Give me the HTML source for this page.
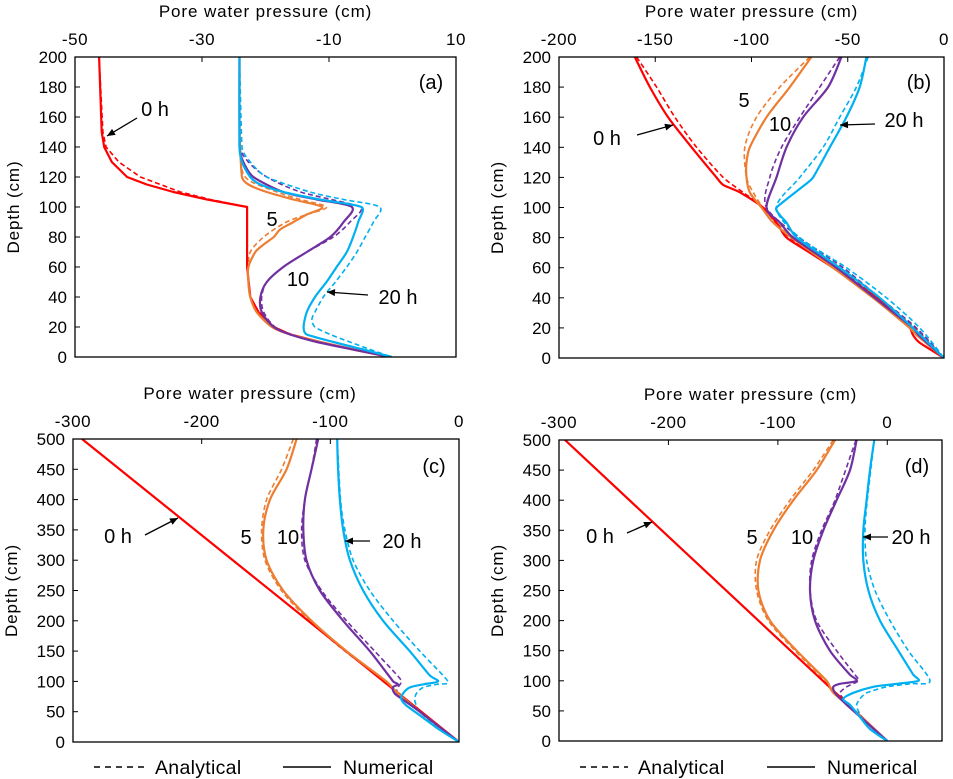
<!DOCTYPE html>
<html><head><meta charset="utf-8">
<style>
html,body{margin:0;padding:0;background:#fff;}
svg{display:block;font-family:"Liberation Sans",Arial,sans-serif;}
</style></head>
<body>
<svg id="chart" width="953" height="779" viewBox="0 0 953 779" xmlns="http://www.w3.org/2000/svg"></svg>
<script>
// ---------- Panel (a) data: depth (cm) / pore pressure (cm) ----------
const aRedNumD = [200,150,140,130,120,115,110,105,100,60,40,30,20,15,10,5,0];
const aRedNumP = [-46.2,-45.8,-45.4,-44.2,-41.8,-38.7,-34.5,-29.2,-22.9,-22.9,-22.4,-21.1,-18.7,-16.1,-11.4,-6.2,-0.4];
const aRedAnaD = [200,150,140,130,120,110,105,100,60,40,30,20,15,10,5,0];
const aRedAnaP = [-46.2,-45.6,-45.1,-43.1,-39.7,-33.4,-28.7,-22.9,-22.9,-22.4,-21.1,-18.7,-16.1,-11.4,-6.2,-0.4];
const aOrgNumD = [200,160,140,120,115,110,105,100,95,90,85,80,75,70,60,50,40,30,20,15,10,5,0];
const aOrgNumP = [-24.1,-24.1,-24.0,-23.7,-22.7,-19.8,-15.6,-11.1,-13.5,-15.6,-17.7,-18.7,-20.3,-21.6,-22.7,-22.7,-22.4,-21.4,-19.0,-16.1,-11.4,-6.2,-0.4];
const aOrgAnaD = [200,160,140,120,110,105,100,95,90,80,70,60,50,40,30,20,15,10,5,0];
const aOrgAnaP = [-24.1,-24.1,-24.0,-23.2,-18.2,-14.5,-10.4,-13.5,-16.7,-20.3,-22.4,-22.7,-22.7,-22.4,-21.4,-19.0,-16.1,-11.4,-6.2,-0.4];
const aPurNumD = [200,140,130,120,110,105,100,90,80,70,60,50,40,30,20,15,10,5,0];
const aPurNumP = [-24.1,-24.1,-23.5,-21.9,-17.2,-11.9,-6.4,-7.7,-9.8,-13.5,-17.2,-19.8,-20.8,-20.6,-18.7,-16.1,-11.9,-6.2,-0.4];
const aPurAnaD = [200,140,130,120,110,100,90,80,70,60,50,40,30,20,15,10,5,0];
const aPurAnaP = [-24.1,-24.0,-22.7,-19.8,-14.5,-5.1,-6.7,-9.3,-13.5,-17.2,-19.8,-20.6,-20.3,-18.5,-15.8,-11.5,-6.0,-0.3];
const aBluNumD = [200,140,130,120,115,110,105,100,90,80,70,60,50,40,30,20,15,10,5,0];
const aBluNumP = [-24.1,-24.1,-23.7,-22.4,-20.8,-17.2,-11.4,-4.9,-5.4,-6.2,-7.2,-8.8,-10.4,-12.2,-13.5,-14.0,-13.5,-9.3,-4.6,-0.1];
const aBluAnaD = [200,140,130,120,110,105,100,90,80,70,60,50,40,30,25,20,15,10,5,0];
const aBluAnaP = [-24.1,-23.7,-22.4,-19.8,-13.0,-7.7,-2.0,-3.0,-4.3,-5.6,-7.2,-9.0,-10.9,-12.2,-12.7,-12.2,-9.8,-6.7,-3.5,-0.1];

// ---------- Panel (b) ----------
const bRedNumD = [200,180,160,140,120,115,110,100,90,80,70,60,40,20,15,10,0];
const bRedNumP = [-160.6,-152.8,-143.3,-131.1,-118.2,-114.7,-106,-94,-87,-81.8,-69.7,-57.6,-35.1,-17.8,-16,-12.5,0];
const bRedAnaD = [200,180,160,140,120,110,100,80,60,40,20,0];
const bRedAnaP = [-159.7,-149.3,-139.8,-128.5,-114.7,-104.3,-94,-80.1,-55.9,-34.3,-15.2,0];
const bOrgNumD = [200,180,160,140,130,120,110,100,90,80,60,40,20,15,0];
const bOrgNumP = [-68.9,-80.1,-92.2,-100.9,-102.6,-102.6,-100.9,-94.8,-88.8,-79.2,-57.6,-36.9,-17.8,-14,0];
const bOrgAnaD = [200,180,160,140,120,110,100,90,80,60,40,20,0];
const bOrgAnaP = [-69.7,-85.3,-97.4,-103.5,-102.6,-99.1,-94,-87,-78,-56,-35.5,-16,0];
const bPurNumD = [200,180,160,140,120,100,90,80,60,40,20,15,0];
const bPurNumP = [-53.3,-60.2,-73.2,-81.8,-87,-92.2,-85.3,-78.4,-55.9,-36,-16.1,-13,0];
const bPurAnaD = [200,180,160,140,120,100,80,60,40,20,0];
const bPurAnaP = [-54.2,-64.5,-74.9,-84.4,-90.5,-92.2,-75,-52.4,-33.4,-14.4,0];
const bBluNumD = [200,180,160,140,120,115,100,95,90,80,60,40,20,15,0];
const bBluNumP = [-40.3,-43.8,-50.7,-59.3,-68,-72.3,-87,-85.3,-81.8,-76.6,-54.2,-33.4,-16.1,-12,0];
const bBluAnaD = [200,180,160,140,120,100,80,60,40,20,0];
const bBluAnaP = [-39.4,-45.5,-54.2,-62.8,-74.9,-87,-75,-50.7,-29.9,-12.6,0];

// ---------- Panel (c) ----------
const cRedD = [500,0];
const cRedP = [-293,0];
const cOrgNumD = [500,450,400,350,300,250,200,150,100,80,50,0];
const cOrgNumP = [-126.2,-134,-146.9,-152.1,-149.5,-136.6,-114.6,-87.4,-56.4,-47.4,-30.5,0];
const cOrgAnaD = [500,450,400,350,300,250,200,150,100,80,50,0];
const cOrgAnaP = [-128.8,-137.9,-149.5,-153.4,-150.8,-138,-116,-88.7,-57,-47.4,-30.5,0];
const cPurNumD = [500,450,400,350,300,250,200,150,100,95,90,80,70,50,0];
const cPurNumP = [-109.4,-114.6,-119.8,-121,-118.5,-108.1,-90,-69.3,-51.2,-47.4,-51.5,-50,-43.5,-30.5,0];
const cPurAnaD = [500,450,400,350,300,250,200,150,110,100,90,80,70,50,0];
const cPurAnaP = [-110.7,-114.6,-119.8,-122.3,-119.8,-106.8,-87.4,-65.5,-48,-44.8,-47.4,-48.6,-43.5,-30.5,0];
const cBluNumD = [500,450,400,350,300,250,200,150,110,100,95,90,80,70,60,40,20,0];
const cBluNumP = [-94.7,-94,-92.6,-90,-84.8,-74.5,-59,-38.3,-22.8,-16.3,-28,-38.3,-43.5,-44.8,-40.8,-27.8,-15,0];
const cBluAnaD = [500,400,350,300,250,200,150,100,95,90,80,70,60,50,30,0];
const cBluAnaP = [-94.7,-92.1,-88.7,-82.3,-69.3,-51.2,-30.5,-8.6,-17.6,-28,-33.1,-34.4,-33.1,-30.5,-20,0];

// ---------- Panel (d) ----------
const dRedD = [500,0];
const dRedP = [-294.5,0];
const dOrgNumD = [500,450,400,350,300,250,200,150,100,80,50,0];
const dOrgNumP = [-47.8,-64.5,-85.9,-104.1,-116.3,-117.8,-107.2,-82.8,-55.4,-49.3,-30,0];
const dOrgAnaD = [500,450,400,350,300,250,200,150,100,80,50,0];
const dOrgAnaP = [-49.3,-67.6,-88.9,-107.2,-119.4,-119.4,-108.7,-84.3,-57,-49.3,-30,0];
const dPurNumD = [500,450,400,350,300,250,200,150,110,100,95,90,80,60,0];
const dPurNumP = [-28,-34.1,-46.3,-58.5,-67.6,-70.6,-66.1,-52.4,-34.1,-28,-43.2,-49.3,-47.8,-37,0];
const dPurAnaD = [500,400,350,300,250,200,150,110,100,90,80,70,60,0];
const dPurAnaP = [-28.6,-47.8,-60,-69.1,-70.6,-64.6,-46.3,-29.5,-26.5,-37.1,-43.2,-40,-36,0];
const dBluNumD = [500,450,400,350,300,250,200,150,110,100,95,90,80,70,60,40,20,0];
const dBluNumP = [-11.9,-15.8,-18.9,-21.9,-21.9,-17.3,-6.7,10.1,23.8,28.4,8.5,-12.8,-31,-40.2,-34.1,-25,-15.8,0];
const dBluAnaD = [500,400,350,300,250,200,150,100,95,90,80,70,60,50,30,0];
const dBluAnaP = [-11.9,-18.3,-20.4,-18.9,-11.2,2.5,19.2,39,20.7,-0.6,-18.9,-25,-28,-26.5,-18.9,0];

// tick labels
const aXTicks = [-50,-30,-10,10];
const bXTicks = [-200,-150,-100,-50,0];
const cXTicks = [-300,-200,-100,0];
const dXTicks = [-300,-200,-100,0];
const abYTicks = [0,20,40,60,80,100,120,140,160,180,200];
const cdYTicks = [0,50,100,150,200,250,300,350,400,450,500];

const RED='#FF0000', ORG='#ED7D31', PUR='#7030A0', BLU='#00B0F0';
const NS='http://www.w3.org/2000/svg';
const svg=document.getElementById('chart');

function mk(tag, attrs, parent){
  const e=document.createElementNS(NS,tag);
  for(const k in attrs) e.setAttribute(k,attrs[k]);
  (parent||svg).appendChild(e);
  return e;
}

function clampVec(v,maxLen){
  const l=Math.hypot(v[0],v[1]);
  if(l>maxLen&&l>0){return [v[0]*maxLen/l,v[1]*maxLen/l];}
  return v;
}
function linePath(pts){
  return 'M'+pts.map(p=>p[0].toFixed(1)+','+p[1].toFixed(1)).join(' L');
}
function smoothPath(pts){
  if(pts.length<3) return linePath(pts);
  let d='M'+pts[0][0].toFixed(1)+','+pts[0][1].toFixed(1);
  const k=0.15;
  for(let i=0;i<pts.length-1;i++){
    const p0=pts[i-1]||pts[i], p1=pts[i], p2=pts[i+1], p3=pts[i+2]||p2;
    const seg=Math.hypot(p2[0]-p1[0],p2[1]-p1[1]);
    const prev=Math.hypot(p1[0]-p0[0],p1[1]-p0[1]);
    const next=Math.hypot(p3[0]-p2[0],p3[1]-p2[1]);
    const v1=clampVec([(p2[0]-p0[0])*k,(p2[1]-p0[1])*k],Math.min(seg,prev||seg)/3);
    const v2=clampVec([(p3[0]-p1[0])*k,(p3[1]-p1[1])*k],Math.min(seg,next||seg)/3);
    const c1=[p1[0]+v1[0],p1[1]+v1[1]];
    const c2=[p2[0]-v2[0],p2[1]-v2[1]];
    d+=' C'+c1[0].toFixed(1)+','+c1[1].toFixed(1)+' '+c2[0].toFixed(1)+','+c2[1].toFixed(1)+' '+p2[0].toFixed(1)+','+p2[1].toFixed(1);
  }
  return d;
}

const TICK_FS=17, TITLE_FS=17, TITLE_LS=0.9;

function panel(id, geo, xmin, xmax, ymax, xTicks, yTicks, series, tag, tagPos, notes){
  const g=mk('g',{});
  
  
  const sx=v=>geo.l+(v-xmin)/(xmax-xmin)*(geo.r-geo.l);
  const sy=d=>geo.b-d/ymax*(geo.b-geo.t);
  const cp=mk('clipPath',{id:'clip-'+id},g);
  mk('rect',{x:geo.l,y:geo.t,width:geo.r-geo.l,height:geo.b-geo.t},cp);
  const sg=mk('g',{'clip-path':'url(#clip-'+id+')'},g);
  series.forEach(s=>{
    const pts=s.d.map((d,i)=>[sx(s.p[i]),sy(d)]);
    const pd=s.sharp?linePath(pts):smoothPath(pts);
    const pl=mk('path',{d:pd,fill:'none',stroke:s.c,'stroke-width':s.dash?1.6:2.2,'stroke-linejoin':'round'},sg);
    if(s.dash) pl.setAttribute('stroke-dasharray','5,3');
    
    
  });
  const fr=mk('rect',{x:geo.l,y:geo.t,width:geo.r-geo.l,height:geo.b-geo.t,fill:'none',stroke:'#000','stroke-width':1.3},g);
  
  
  xTicks.forEach(v=>{
    const x=sx(v);
    mk('line',{x1:x,y1:geo.t,x2:x,y2:geo.t+5,stroke:'#000','stroke-width':1},g);
    const t=mk('text',{x:x,y:geo.t-12,'text-anchor':'middle','font-size':TICK_FS,fill:'#000','letter-spacing':0.6},g);
    t.textContent=(v<0?'-':'')+Math.abs(v);
    
    
  });
  yTicks.forEach(v=>{
    const y=sy(v);
    mk('line',{x1:geo.l,y1:y,x2:geo.l+5,y2:y,stroke:'#000','stroke-width':1},g);
    const t=mk('text',{x:geo.l-8,y:y+6,'text-anchor':'end','font-size':TICK_FS,fill:'#000'},g);
    t.textContent=v;
    
    
  });
  const xt=mk('text',{x:(geo.l+geo.r)/2-(id==='c'?16:0),y:geo.t-40,'text-anchor':'middle','font-size':TITLE_FS,'letter-spacing':TITLE_LS,fill:'#000'},g);
  xt.textContent='Pore water pressure (cm)';
  
  
  const yx=geo.l-56, yy=(geo.t+geo.b)/2;
  const yt=mk('text',{x:yx,y:yy,'text-anchor':'middle','font-size':TITLE_FS,'letter-spacing':TITLE_LS,fill:'#000',transform:'rotate(-90 '+yx+' '+yy+')'},g);
  yt.textContent='Depth (cm)';
  
  
  const pt=mk('text',{x:tagPos[0],y:tagPos[1],'text-anchor':'middle','font-size':20,fill:'#000'},g);
  pt.textContent=tag;
  
  
  notes.forEach(n=>{
    const t=mk('text',{x:n.x,y:n.y,'text-anchor':'middle','font-size':20,fill:'#000'},g);
    t.textContent=n.t;
    
    
    if(n.a){
      const [x1,y1,x2,y2]=n.a;
      mk('line',{x1:x1,y1:y1,x2:x2,y2:y2,stroke:'#000','stroke-width':1.3},g);
      const ang=Math.atan2(y2-y1,x2-x1), L=8, W=3.5;
      const bx=x2-L*Math.cos(ang), by=y2-L*Math.sin(ang);
      const p=[x2,y2, bx+W*Math.sin(ang),by-W*Math.cos(ang), bx-W*Math.sin(ang),by+W*Math.cos(ang)];
      const ah=mk('polygon',{points:p.join(','),fill:'#000'},g);
      
      
    }
  });
}

function S(d,p,c,dash,name,sharp){return {d:d,p:p,c:c,dash:dash,name:name,sharp:!!sharp};}

panel('a',{l:75,r:456,t:57,b:357},-50,10,200,aXTicks,abYTicks,[
  S(aRedAnaD,aRedAnaP,RED,true,'series-0h-analytical',true),
  S(aOrgAnaD,aOrgAnaP,ORG,true,'series-5h-analytical'),
  S(aPurAnaD,aPurAnaP,PUR,true,'series-10h-analytical'),
  S(aBluAnaD,aBluAnaP,BLU,true,'series-20h-analytical'),
  S(aRedNumD,aRedNumP,RED,false,'series-0h-numerical',true),
  S(aOrgNumD,aOrgNumP,ORG,false,'series-5h-numerical'),
  S(aPurNumD,aPurNumP,PUR,false,'series-10h-numerical'),
  S(aBluNumD,aBluNumP,BLU,false,'series-20h-numerical')
],'(a)',[431,89],[
  {t:'0 h',x:155,y:116,a:[137,118,107,136]},
  {t:'5',x:272,y:226},
  {t:'10',x:298,y:286},
  {t:'20 h',x:398,y:304,a:[368,295,327,292]}
]);

panel('b',{l:559,r:944,t:57,b:358},-200,0,200,bXTicks,abYTicks,[
  S(bRedAnaD,bRedAnaP,RED,true,'series-0h-analytical'),
  S(bOrgAnaD,bOrgAnaP,ORG,true,'series-5h-analytical'),
  S(bPurAnaD,bPurAnaP,PUR,true,'series-10h-analytical'),
  S(bBluAnaD,bBluAnaP,BLU,true,'series-20h-analytical'),
  S(bRedNumD,bRedNumP,RED,false,'series-0h-numerical'),
  S(bOrgNumD,bOrgNumP,ORG,false,'series-5h-numerical'),
  S(bPurNumD,bPurNumP,PUR,false,'series-10h-numerical'),
  S(bBluNumD,bBluNumP,BLU,false,'series-20h-numerical')
],'(b)',[919,89],[
  {t:'0 h',x:607,y:145,a:[637,135,673,125]},
  {t:'5',x:744,y:107},
  {t:'10',x:780,y:131},
  {t:'20 h',x:904,y:127,a:[875,124,840,125]}
]);

panel('c',{l:73,r:459,t:439,b:742},-300,0,500,cXTicks,cdYTicks,[
  S(cOrgAnaD,cOrgAnaP,ORG,true,'series-5h-analytical'),
  S(cPurAnaD,cPurAnaP,PUR,true,'series-10h-analytical'),
  S(cBluAnaD,cBluAnaP,BLU,true,'series-20h-analytical'),
  S(cRedD,cRedP,RED,false,'series-0h-numerical'),
  S(cOrgNumD,cOrgNumP,ORG,false,'series-5h-numerical'),
  S(cPurNumD,cPurNumP,PUR,false,'series-10h-numerical'),
  S(cBluNumD,cBluNumP,BLU,false,'series-20h-numerical')
],'(c)',[434,473],[
  {t:'0 h',x:118,y:543,a:[145,535,178,518]},
  {t:'5',x:246,y:544},
  {t:'10',x:288,y:544},
  {t:'20 h',x:402,y:548,a:[370,541,345,541]}
]);

panel('d',{l:559,r:942,t:440,b:741},-300,50,500,dXTicks,cdYTicks,[
  S(dOrgAnaD,dOrgAnaP,ORG,true,'series-5h-analytical'),
  S(dPurAnaD,dPurAnaP,PUR,true,'series-10h-analytical'),
  S(dBluAnaD,dBluAnaP,BLU,true,'series-20h-analytical'),
  S(dRedD,dRedP,RED,false,'series-0h-numerical'),
  S(dOrgNumD,dOrgNumP,ORG,false,'series-5h-numerical'),
  S(dPurNumD,dPurNumP,PUR,false,'series-10h-numerical'),
  S(dBluNumD,dBluNumP,BLU,false,'series-20h-numerical')
],'(d)',[917,473],[
  {t:'0 h',x:600,y:543,a:[627,533,652,522]},
  {t:'5',x:752,y:544},
  {t:'10',x:802,y:544},
  {t:'20 h',x:911,y:544,a:[888,537,863,537]}
]);

function legend(x0,x1,tx,x2,x3,tx2){
  const g=mk('g',{});
  
  
  const l1=mk('line',{x1:x0,y1:767,x2:x1,y2:767,stroke:'#000','stroke-width':1.5,'stroke-dasharray':'6,5'},g);
  
  
  const t1=mk('text',{x:tx,y:774,'font-size':19.5,'letter-spacing':0.3,fill:'#000'},g);
  t1.textContent='Analytical';
  
  
  const l2=mk('line',{x1:x2,y1:767,x2:x3,y2:767,stroke:'#000','stroke-width':1.5},g);
  
  
  const t2=mk('text',{x:tx2,y:774,'font-size':19.5,'letter-spacing':0.3,fill:'#000'},g);
  t2.textContent='Numerical';
  
  
}
legend(94,146,155,283,331,343);
legend(580,628,638,767,815,827);
</script>
</body></html>
